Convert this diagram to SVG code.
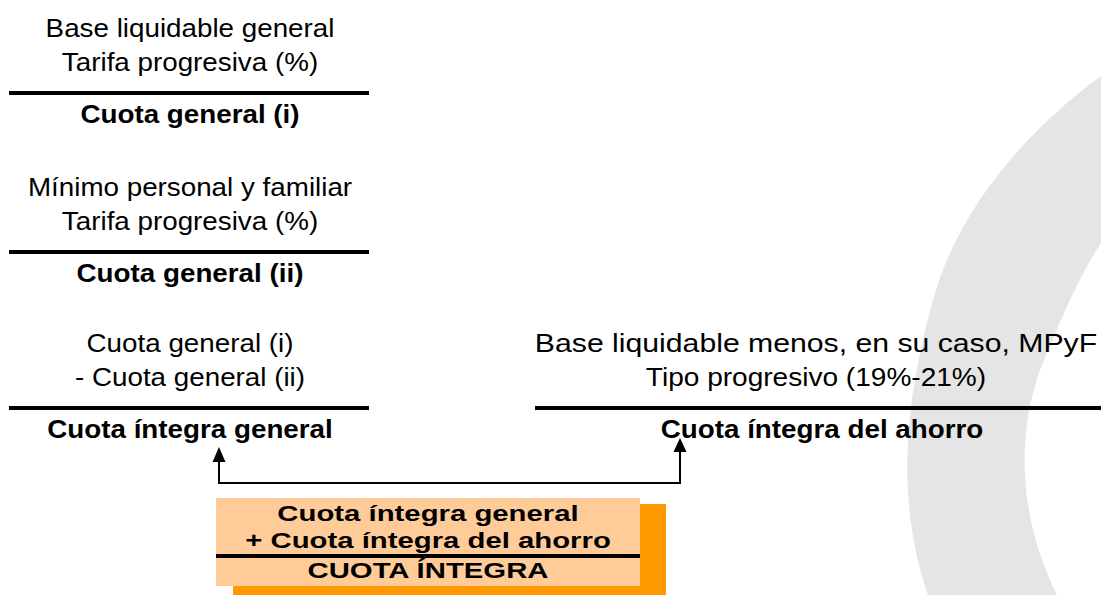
<svg xmlns="http://www.w3.org/2000/svg" width="1101" height="595" viewBox="0 0 1101 595">
<defs>
<style>
text{font-family:"Liberation Sans",Arial,sans-serif;fill:#000;text-anchor:middle}
.n{font-size:25.5px}
.b{font-size:25.5px;font-weight:bold}
.bx{font-size:22px;font-weight:bold}
.rule{stroke:#000;stroke-width:4}
.conn{stroke:#000;stroke-width:2;fill:none}
.head{fill:#000}
</style>
</defs>
<rect width="1101" height="595" fill="#fff"/>
<path d="M1101,76 C1040,120 960,200 933,300 C905,400 895,500 928,595 L1057,595 C1020,520 1015,440 1040,370 C1060,320 1080,275 1101,243 Z" fill="#e5e5e5"/>

<g id="cuota-general-i">
<text class="n" transform="translate(190,37) scale(1.09,1)">Base liquidable general</text>
<text class="n" transform="translate(190,71) scale(1.09,1)">Tarifa progresiva (%)</text>
<line class="rule" x1="9" y1="93" x2="369" y2="93"/>
<text class="b" transform="translate(190,123) scale(1.09,1)">Cuota general (i)</text>
</g>

<g id="cuota-general-ii">
<text class="n" transform="translate(190,196) scale(1.09,1)">Mínimo personal y familiar</text>
<text class="n" transform="translate(190,230) scale(1.09,1)">Tarifa progresiva (%)</text>
<line class="rule" x1="9" y1="252" x2="369" y2="252"/>
<text class="b" transform="translate(190,282) scale(1.09,1)">Cuota general (ii)</text>
</g>

<g id="cuota-integra-general">
<text class="n" transform="translate(190,352) scale(1.09,1)">Cuota general (i)</text>
<text class="n" transform="translate(190,386) scale(1.09,1)">- Cuota general (ii)</text>
<line class="rule" x1="9" y1="408" x2="369" y2="408"/>
<text class="b" transform="translate(190,438) scale(1.09,1)">Cuota íntegra general</text>
</g>

<g id="cuota-integra-ahorro">
<text class="n" transform="translate(816,352) scale(1.185,1)">Base liquidable menos, en su caso, MPyF</text>
<text class="n" transform="translate(816,386) scale(1.1,1)">Tipo progresivo (19%-21%)</text>
<line class="rule" x1="535" y1="408" x2="1101" y2="408"/>
<text class="b" transform="translate(822,438) scale(1.09,1)">Cuota íntegra del ahorro</text>
</g>

<g id="connectors">
<polyline class="conn" points="219,461 219,483 680,483 680,451"/>
<polygon class="head" points="219,447 212.5,462 225.5,462"/>
<polygon class="head" points="680,438 673.5,452 686.5,452"/>
</g>

<g id="cuota-integra">
<rect x="233" y="504" width="433" height="91" fill="#ff9900"/>
<rect x="216" y="498" width="424" height="88" fill="#ffcc99"/>
<line class="rule" x1="216" y1="556" x2="640" y2="556"/>
<text class="bx" transform="translate(428,521) scale(1.333,1)">Cuota íntegra general</text>
<text class="bx" transform="translate(428,548) scale(1.333,1)">+ Cuota íntegra del ahorro</text>
<text class="bx" transform="translate(428,578) scale(1.333,1)">CUOTA ÍNTEGRA</text>
</g>
</svg>
